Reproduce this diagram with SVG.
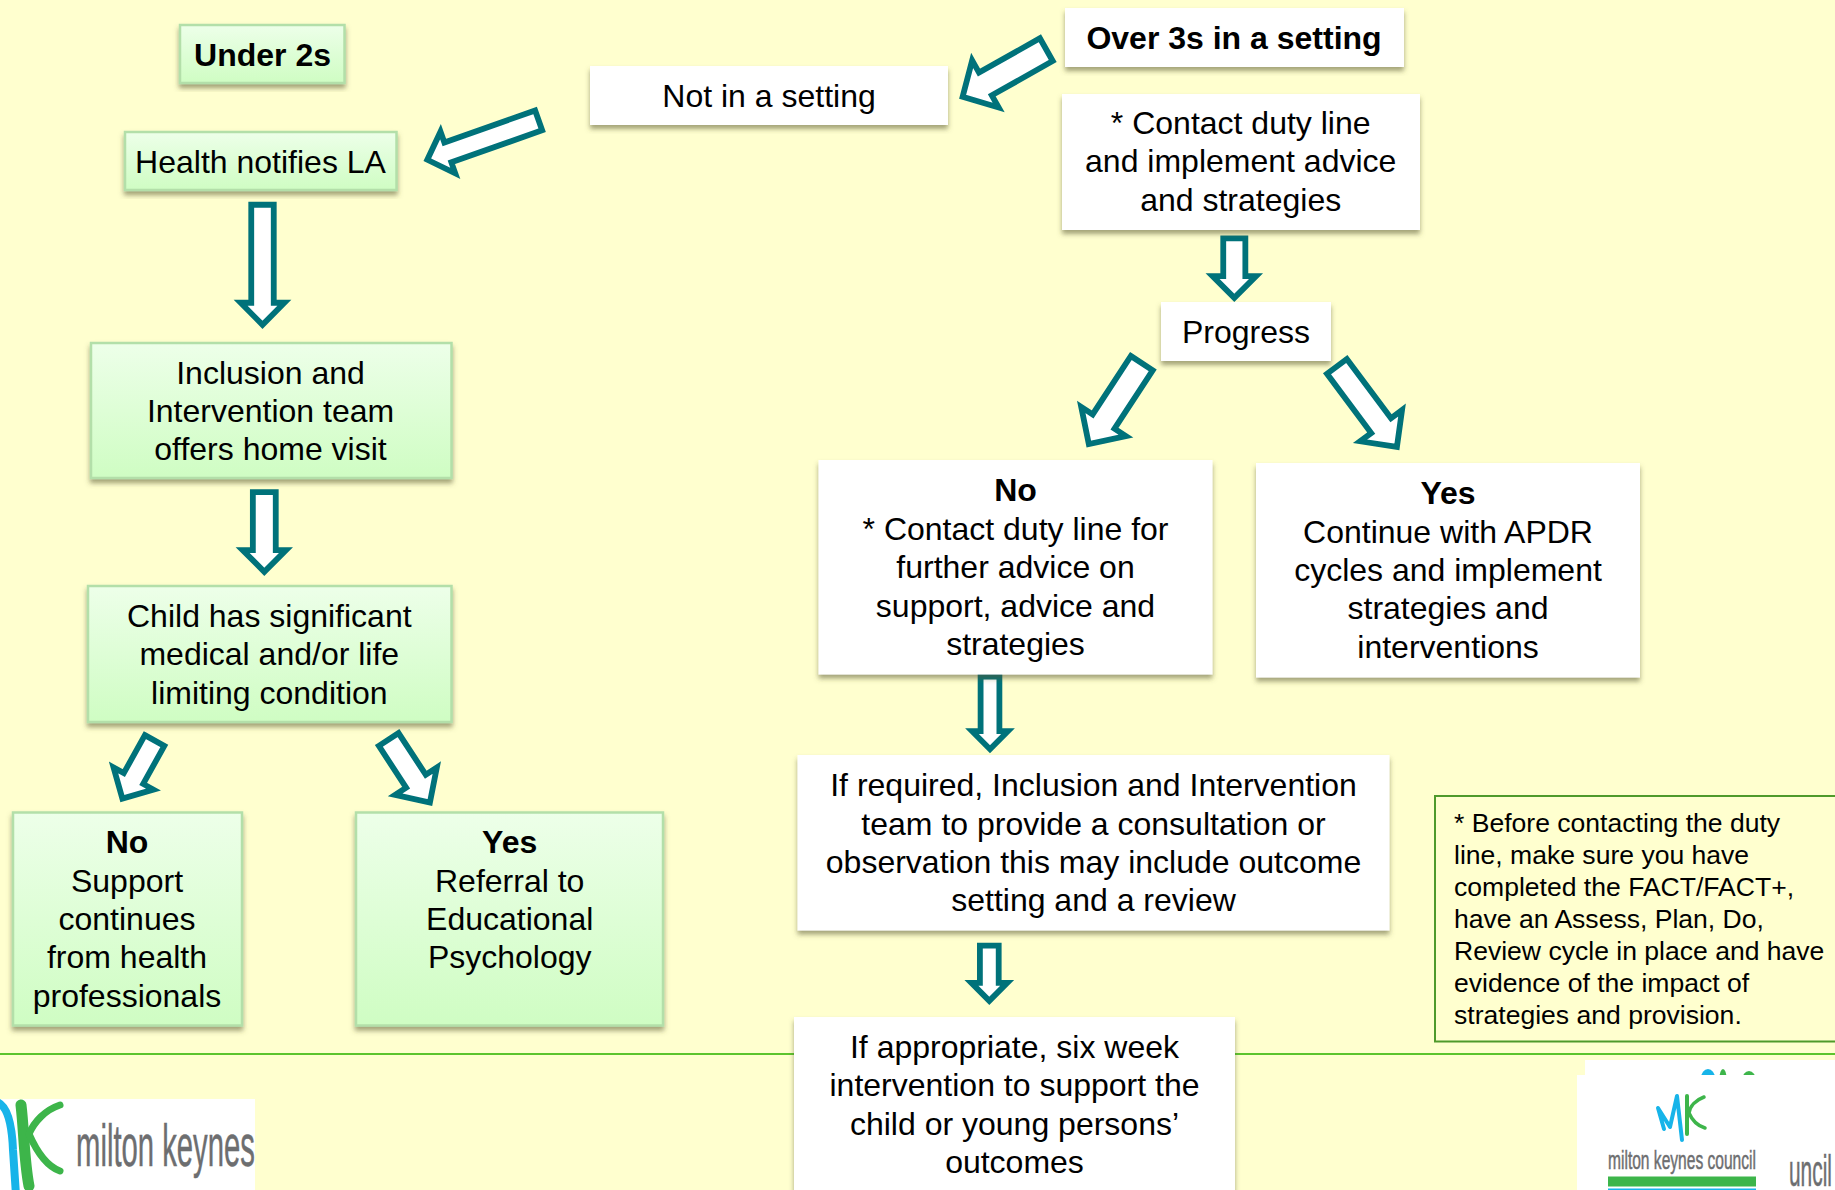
<svg xmlns="http://www.w3.org/2000/svg" width="1835" height="1190" viewBox="0 0 1835 1190">
<defs>
<linearGradient id="g" x1="0" y1="0" x2="0" y2="1"><stop offset="0" stop-color="#edffe9"/><stop offset="1" stop-color="#cffdc3"/></linearGradient>
<filter id="sh" x="-10%" y="-10%" width="120%" height="125%"><feDropShadow dx="0" dy="4" stdDeviation="2.5" flood-color="#55552f" flood-opacity="0.55"/></filter>
</defs>
<style>
text{font-family:"Liberation Sans",Arial,sans-serif;font-size:32px;fill:#000;text-anchor:middle}
.b{font-weight:700}
.gb{fill:url(#g);stroke:#b3dfa9;stroke-width:2.5;filter:url(#sh)}
.wb{fill:#fff;filter:url(#sh)}
.ar{fill:#fff;stroke:#00727a;stroke-width:5.8;stroke-miterlimit:12}
.note{font-size:26.55px;text-anchor:start}
.logo{fill:#6d6e70;stroke:#6d6e70;stroke-width:0.5;text-anchor:start}
.lb{fill:none;stroke:#17b4e9;stroke-linecap:round;stroke-linejoin:round}
.lg{fill:none;stroke:#3db54a;stroke-linecap:round;stroke-linejoin:round}
</style>
<rect width="1835" height="1190" fill="#ffffcf"/>
<line x1="0" y1="1054" x2="1835" y2="1054" stroke="#5cc42e" stroke-width="2"/>

<rect x="0" y="1099" width="255" height="91" fill="#fff"/>
<path class="lb" stroke-width="8" d="M-3 1102C8 1106 12 1125 13 1150L16 1195"/>
<path class="lg" stroke-width="11" d="M21 1105C24 1130 24 1160 29 1186"/>
<path class="lg" stroke-width="7" d="M60 1105C45 1110 34 1122 29 1134C36 1150 46 1166 60 1171"/>
<text class="logo" transform="translate(76 1166) scale(0.488 1)" style="font-size:60px">milton keynes</text>

<rect x="1585" y="1060" width="250" height="130" fill="#fff"/>
<ellipse cx="1708" cy="1078" rx="7" ry="9" fill="#17b4e9"/>
<ellipse cx="1723" cy="1078" rx="3.5" ry="9" fill="#3db54a"/>
<ellipse cx="1749" cy="1080" rx="7" ry="9" fill="#3db54a"/>
<rect x="1577" y="1075" width="212" height="115" fill="#fff"/>
<path class="lb" stroke-width="4" d="M1664 1129L1658 1108L1670 1127L1677 1096L1682 1140"/>
<path class="lg" stroke-width="4" d="M1687 1096L1687 1134"/>
<path class="lg" stroke-width="3.5" d="M1704 1097C1696 1100 1690 1106 1689 1113C1692 1120 1698 1126 1705 1128"/>
<text class="logo" transform="translate(1608 1169) scale(0.599 1)" style="font-size:26px">milton keynes council</text>
<rect x="1608" y="1176.500" width="148" height="10" fill="#3db54a"/>
<rect x="1608" y="1188.500" width="148" height="1.500" fill="#17b4e9"/>
<text class="logo" transform="translate(1789 1186) scale(0.475 1)" style="font-size:44px">uncil</text>

<g id="connectors">
<polygon class="ar" transform="translate(541 119.500) rotate(70.500)" points="-10.500,2.500 10.500,2.500 10.500,98.800 22.100,98.800 0,120.600 -22.100,98.800 -10.500,98.800"/>
<polygon class="ar" transform="translate(1048.700 48.300) rotate(60.600)" points="-13.050,2.750 13.050,2.750 13.050,72.650 27,72.650 0,98.800 -27,72.650 -13.050,72.650"/>
<polygon class="ar" transform="translate(1143.300 360.800) rotate(33.200)" points="-13.050,2.750 13.050,2.750 13.050,72.550 26.700,72.550 0,99.500 -26.700,72.550 -13.050,72.550"/>
<polygon class="ar" transform="translate(1335.300 364.200) rotate(-36.700)" points="-12.350,2.750 12.350,2.750 12.350,76.650 26.100,76.650 0,103.100 -26.100,76.650 -12.350,76.650"/>
<polygon class="ar" transform="translate(155.800 738.300) rotate(29)" points="-11.100,2.500 11.100,2.500 11.100,46 22.800,46 0,68.950 -22.800,46 -11.100,46"/>
<polygon class="ar" transform="translate(387.200 737.200) rotate(-33.200)" points="-11.750,2.750 11.750,2.750 11.750,52.550 24.900,52.550 0,78 -24.900,52.550 -11.750,52.550"/>
<polygon class="ar" transform="translate(262.500 202)" points="-11.250,2.750 11.250,2.750 11.250,100.750 21.900,100.750 0,122.800 -21.900,100.750 -11.250,100.750"/>
<polygon class="ar" transform="translate(264.300 489.300)" points="-11.450,2.750 11.450,2.750 11.450,60.750 21.700,60.750 0,82.500 -21.700,60.750 -11.450,60.750"/>
<polygon class="ar" transform="translate(1234.300 235.700)" points="-11.050,2.750 11.050,2.750 11.050,40.350 21.750,40.350 0,62.100 -21.750,40.350 -11.050,40.350"/>
<polygon class="ar" transform="translate(990 673.900)" points="-9.400,2.600 9.400,2.600 9.400,57.300 17.900,57.300 0,75.300 -17.900,57.300 -9.400,57.300"/>
<polygon class="ar" transform="translate(989.300 943.100)" points="-9.400,2.600 9.400,2.600 9.400,39.800 17.900,39.800 0,57.800 -17.900,39.800 -9.400,39.800"/>
</g>

<g id="under2s"><rect class="gb" x="180" y="25" width="164.500" height="58"/><text class="b" x="262.500" y="66">Under 2s</text></g>
<g id="health"><rect class="gb" x="125" y="132" width="271.500" height="58"/><text x="260.500" y="173">Health notifies LA</text></g>
<g id="inclusion"><rect class="gb" x="91" y="343" width="360.500" height="135"/><text x="270.500" y="384">Inclusion and</text><text x="270.500" y="422">Intervention team</text><text x="270.500" y="460">offers home visit</text></g>
<g id="child"><rect class="gb" x="88" y="586" width="363.500" height="136"/><text x="269.300" y="627">Child has significant</text><text x="269.300" y="665">medical and/or life</text><text x="269.300" y="704">limiting condition</text></g>
<g id="no-left"><rect class="gb" x="13" y="812.500" width="229" height="213"/><text class="b" x="127" y="853">No</text><text x="127" y="892">Support</text><text x="127" y="930">continues</text><text x="127" y="968">from health</text><text x="127" y="1007">professionals</text></g>
<g id="yes-left"><rect class="gb" x="356" y="812.500" width="307" height="213"/><text class="b" x="509.700" y="853">Yes</text><text x="509.700" y="892">Referral to</text><text x="509.700" y="930">Educational</text><text x="509.700" y="968">Psychology</text></g>

<g id="not-in-setting"><rect class="wb" x="590" y="66" width="358" height="59"/><text x="769" y="107">Not in a setting</text></g>
<g id="over3s"><rect class="wb" x="1065" y="8" width="339" height="59"/><text class="b" x="1234" y="49">Over 3s in a setting</text></g>
<g id="contact"><rect class="wb" x="1062" y="94" width="358" height="136"/><text x="1240.700" y="134">* Contact duty line</text><text x="1240.700" y="172">and implement advice</text><text x="1240.700" y="211">and strategies</text></g>
<g id="progress"><rect class="wb" x="1161" y="302" width="170" height="59"/><text x="1246" y="343">Progress</text></g>
<g id="no-right"><rect class="wb" x="818.500" y="460" width="394" height="214.500"/><text class="b" x="1015.500" y="501">No</text><text x="1015.500" y="540">* Contact duty line for</text><text x="1015.500" y="578">further advice on</text><text x="1015.500" y="617">support, advice and</text><text x="1015.500" y="655">strategies</text></g>
<g id="yes-right"><rect class="wb" x="1256" y="463" width="384" height="214.500"/><text class="b" x="1448" y="504">Yes</text><text x="1448" y="543">Continue with APDR</text><text x="1448" y="581">cycles and implement</text><text x="1448" y="619">strategies and</text><text x="1448" y="658">interventions</text></g>
<g id="if-required"><rect class="wb" x="797.500" y="755" width="592" height="175.500"/><text x="1093.500" y="796">If required, Inclusion and Intervention</text><text x="1093.500" y="835">team to provide a consultation or</text><text x="1093.500" y="873">observation this may include outcome</text><text x="1093.500" y="911">setting and a review</text></g>
<g id="six-week"><rect class="wb" x="794" y="1017" width="441" height="190"/><text x="1014.500" y="1058">If appropriate, six week</text><text x="1014.500" y="1096">intervention to support the</text><text x="1014.500" y="1135">child or young persons’</text><text x="1014.500" y="1173">outcomes</text></g>

<g id="note"><rect x="1435" y="796" width="420" height="245.500" fill="none" stroke="#4f9a2b" stroke-width="2"/>
<text class="note" x="1454" y="832">* Before contacting the duty</text><text class="note" x="1454" y="864">line, make sure you have</text><text class="note" x="1454" y="896">completed the FACT/FACT+,</text><text class="note" x="1454" y="928">have an Assess, Plan, Do,</text><text class="note" x="1454" y="960">Review cycle in place and have</text><text class="note" x="1454" y="992">evidence of the impact of</text><text class="note" x="1454" y="1024">strategies and provision.</text></g>
</svg>
